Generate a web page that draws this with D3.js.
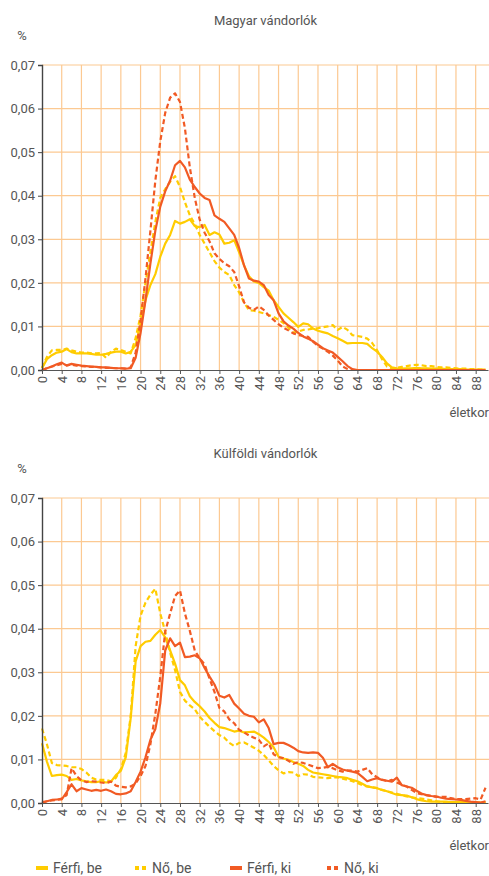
<!DOCTYPE html>
<html>
<head>
<meta charset="utf-8">
<script src="https://d3js.org/d3.v7.min.js"></script>
<style>
  body { margin: 0; background: #fff; }
  text { font-family: "Liberation Sans Narrow", "Roboto", sans-serif; fill: #555; }
</style>
</head>
<body>
<div id="chart"></div>
<script>
var ages = d3.range(0, 91)
var yTicks = [0, 0.01, 0.02, 0.03, 0.04, 0.05, 0.06, 0.07]
var xTicks = d3.range(0, 89, 4)

// Magyar vándorlók
var huFerfiBe = [0.0004,0.0025,0.0034,0.004,0.0042,0.0048,0.0041,0.0038,0.0038,0.0038,0.0037,0.0035,0.0035,0.0037,0.004,0.0042,0.0042,0.0038,0.0042,0.0057,
  0.0105,0.016,0.0195,0.022,0.026,0.029,0.031,0.0342,0.0336,0.034,0.0346,0.033,0.0328,0.0333,0.031,0.0316,0.0311,0.029,0.0292,0.0298,
  0.027,0.024,0.0215,0.0203,0.02,0.019,0.0182,0.016,0.0145,0.013,0.012,0.011,0.0099,0.0107,0.0105,0.0095,0.009,0.0087,0.0084,0.0078,
  0.0073,0.0067,0.0061,0.0062,0.0062,0.0062,0.006,0.005,0.0042,0.003,0.0015,0.0006,0.0004,0.0003,0.0004,0.0004,0.0005,0.0004,0.0004,0.0003,
  0.0003,0.0003,0.0002,0.0002,0.0002,0.0002,0.0001,0.0001,0.0001,0.0001,0.0001]
var huNoBe = [0.0005,0.003,0.0045,0.0046,0.0046,0.0049,0.0045,0.0042,0.004,0.004,0.0038,0.0038,0.0039,0.0028,0.0042,0.0049,0.0046,0.0042,0.0038,0.0073,
  0.0125,0.02,0.027,0.034,0.0395,0.0415,0.0432,0.0445,0.042,0.0385,0.0355,0.0335,0.031,0.029,0.027,0.025,0.0235,0.0225,0.0218,0.0195,
  0.0178,0.0155,0.0137,0.0136,0.0133,0.013,0.0126,0.0122,0.0115,0.0108,0.0097,0.0086,0.0088,0.0092,0.0093,0.0095,0.0096,0.0098,0.01,0.0103,
  0.0092,0.0099,0.0092,0.008,0.0078,0.0076,0.0072,0.0062,0.0045,0.0025,0.0008,0.0004,0.0005,0.0007,0.0009,0.0011,0.0012,0.0011,0.0009,0.0009,
  0.0007,0.0006,0.0006,0.0005,0.0004,0.0003,0.0003,0.0002,0.0002,0.0001,0.0001]
var huFerfiKi = [0,0.0004,0.0008,0.0013,0.0017,0.001,0.0014,0.0012,0.001,0.0009,0.0008,0.0007,0.0006,0.0006,0.0005,0.0004,0.0004,0.0003,0.0004,0.0028,
  0.0085,0.016,0.0245,0.032,0.0375,0.041,0.0435,0.047,0.048,0.0465,0.0437,0.042,0.0405,0.0395,0.039,0.0355,0.0347,0.034,0.0325,0.031,
  0.028,0.024,0.021,0.0205,0.0203,0.0195,0.0172,0.016,0.013,0.0112,0.0102,0.0095,0.0085,0.0077,0.0072,0.0066,0.0058,0.005,0.0045,0.004,
  0.003,0.002,0.0009,0.0002,0,0,0,0,0,0,0,0,0,0,0,0,0,0,0,0,
  0,0,0,0,0,0,0,0,0,0,0]
var huNoKi = [0,0.0004,0.0008,0.0011,0.0014,0.0011,0.0012,0.001,0.0009,0.0008,0.0007,0.0007,0.0006,0.0005,0.0005,0.0004,0.0004,0.0003,0.0006,0.004,
  0.0115,0.021,0.032,0.0435,0.0525,0.059,0.0625,0.0635,0.0615,0.0555,0.0465,0.0395,0.0345,0.0315,0.0295,0.0268,0.0255,0.0245,0.0238,0.0225,
  0.0192,0.0155,0.0143,0.0138,0.0146,0.0138,0.0125,0.0115,0.0105,0.0097,0.0091,0.0084,0.008,0.0078,0.0076,0.0065,0.0055,0.0049,0.0042,0.0033,
  0.0022,0.0008,0.0002,0,0,0,0,0,0,0,0,0,0,0,0,0,0,0,0,0,
  0,0,0,0,0,0,0,0,0,0,0]

// Külföldi vándorlók
var kfFerfiBe = [0.0137,0.0095,0.0062,0.0064,0.0065,0.0062,0.0053,0.0055,0.0052,0.005,0.0048,0.0048,0.005,0.0047,0.0049,0.0064,0.0074,0.0105,0.0195,0.0325,
  0.036,0.037,0.0372,0.0386,0.0397,0.038,0.035,0.032,0.0282,0.027,0.0245,0.0232,0.0222,0.021,0.0195,0.0184,0.0174,0.0172,0.0168,0.0164,
  0.0166,0.0162,0.0163,0.0164,0.0158,0.015,0.014,0.0128,0.0106,0.0102,0.0099,0.0094,0.009,0.0085,0.0076,0.007,0.0068,0.0066,0.0064,0.0062,
  0.006,0.0059,0.0057,0.0053,0.005,0.0044,0.0038,0.0036,0.0034,0.003,0.0027,0.0023,0.0019,0.0018,0.0017,0.0013,0.0009,0.0006,0.0004,0.0003,
  0.0003,0.0003,0.0003,0.0002,0.0002,0.0002,0.0002,0.0002,0.0001,0.0001,0.0001]
var kfNoBe = [0.0171,0.0135,0.0092,0.0087,0.0086,0.0085,0.0082,0.0082,0.0078,0.007,0.0058,0.0054,0.0053,0.0053,0.005,0.0058,0.0078,0.0115,0.02,0.036,
  0.043,0.046,0.0478,0.0492,0.0435,0.0393,0.0345,0.0305,0.0255,0.0235,0.0224,0.0215,0.0198,0.0186,0.0175,0.0165,0.0156,0.015,0.0138,0.0131,
  0.0138,0.0139,0.0133,0.0127,0.012,0.011,0.0098,0.0085,0.0075,0.0068,0.0071,0.007,0.0062,0.0066,0.0065,0.006,0.0059,0.0058,0.0057,0.0059,
  0.0059,0.0056,0.0053,0.005,0.0046,0.0041,0.0038,0.0036,0.0034,0.003,0.0027,0.0024,0.0021,0.0018,0.0015,0.0013,0.0011,0.001,0.0008,0.0006,
  0.0004,0.0002,0.0001,0.0001,0.0001,0.0001,0.0001,0.0001,0.0001,0.0001,0.0001]
var kfFerfiKi = [0,0.0004,0.0007,0.0008,0.0008,0.0025,0.0043,0.0027,0.0034,0.0031,0.0028,0.003,0.0028,0.0031,0.0027,0.0021,0.002,0.0022,0.0027,0.0048,
  0.0072,0.0105,0.0145,0.017,0.0229,0.035,0.0378,0.036,0.0368,0.0335,0.0336,0.0339,0.0332,0.031,0.029,0.0272,0.0246,0.0242,0.0248,0.0228,
  0.0217,0.0205,0.02,0.0198,0.0185,0.0192,0.0172,0.0135,0.0138,0.0138,0.0133,0.0127,0.0119,0.0116,0.0115,0.0116,0.0115,0.0104,0.0082,0.009,
  0.0082,0.0077,0.0074,0.0072,0.0069,0.006,0.005,0.0054,0.0057,0.0053,0.0051,0.0049,0.0058,0.0041,0.0038,0.0035,0.0028,0.0022,0.0018,0.0016,
  0.0015,0.0012,0.001,0.0009,0.0008,0.0007,0.0005,0.0003,0.0002,0.0001,0.0004]
var kfNoKi = [0.0002,0.0004,0.0006,0.0007,0.001,0.0018,0.008,0.0062,0.0052,0.0048,0.005,0.0049,0.0047,0.0046,0.0049,0.004,0.0037,0.0036,0.0038,0.0045,
  0.0062,0.0085,0.0135,0.0205,0.029,0.0393,0.0435,0.0475,0.0488,0.0435,0.0395,0.035,0.0332,0.0318,0.0285,0.0255,0.0218,0.021,0.0192,0.0183,
  0.0168,0.0162,0.0155,0.015,0.0145,0.013,0.0137,0.0112,0.0105,0.0103,0.0097,0.009,0.0094,0.0092,0.0088,0.0084,0.008,0.0081,0.0083,0.008,
  0.0075,0.0072,0.0075,0.0074,0.0072,0.0076,0.008,0.0066,0.0059,0.0054,0.005,0.0053,0.0047,0.0042,0.0038,0.003,0.0023,0.002,0.0018,0.0016,
  0.0014,0.0014,0.0014,0.0011,0.0009,0.0009,0.0009,0.001,0.0011,0.0008,0.0035]

var seriesNames = ["Férfi, be", "Nő, be", "Férfi, ki", "Nő, ki"]
var colors = ["#ffcc00", "#ffcc00", "#f15a24", "#f15a24"]
var dashed = [false, true, false, true]

var W = 489, H = 876
var left = 42, right = 489
var svg = d3.select("#chart").append("svg")
  .attr("width", W).attr("height", H)

var x = d3.scaleLinear().domain([0, 90.5]).range([left, 488])
var fmt = function(d){ return d3.format(".2f")(d).replace(".", ",") }

function drawPanel(title, data, top, bottom){
  var y = d3.scaleLinear().domain([0, 0.07]).range([bottom, top])
  var g = svg.append("g")

  g.append("text")
    .attr("x", (left + right) / 2).attr("y", top - 40)
    .attr("text-anchor", "middle")
    .style("font-size", "13px")
    .text(title)

  g.append("text")
    .attr("x", 22).attr("y", top - 25)
    .attr("text-anchor", "middle")
    .style("font-size", "13px")
    .text("%")

  // grid
  g.selectAll(".hgrid").data(yTicks.slice(1)).enter()
    .append("line")
    .attr("x1", left).attr("x2", right)
    .attr("y1", function(d){ return y(d) }).attr("y2", function(d){ return y(d) })
    .style("stroke", "#fcc992").style("stroke-width", 1.2)

  g.selectAll(".vgrid").data(xTicks.slice(1)).enter()
    .append("line")
    .attr("x1", function(d){ return x(d) }).attr("x2", function(d){ return x(d) })
    .attr("y1", top).attr("y2", bottom)
    .style("stroke", "#fcc992").style("stroke-width", 1.2)

  // lines
  var line = d3.line()
    .x(function(d, i){ return x(ages[i]) })
    .y(function(d){ return y(d) })

  // draw order: yellow first, red on top
  data.forEach(function(s, i){
    g.append("path")
      .datum(s)
      .attr("d", line)
      .style("fill", "none")
      .style("stroke", colors[i])
      .style("stroke-width", 2.2)
      .style("stroke-linejoin", "round")
      .style("stroke-dasharray", dashed[i] ? "5,3" : null)
  })

  // axes
  var yAxis = g.append("g")
    .attr("transform", "translate(" + left + ",0)")
    .call(d3.axisLeft(y).tickValues(yTicks).tickFormat(fmt).tickSize(4).tickPadding(3))
  yAxis.select(".domain").style("stroke", "#444").style("stroke-width", 1.4)
  yAxis.selectAll(".tick line").style("stroke", "#444")
  yAxis.selectAll("text").style("font-size", "13px").style("fill", "#555")

  var xAxis = g.append("g")
    .attr("transform", "translate(0," + bottom + ")")
    .call(d3.axisBottom(x).tickValues(xTicks).tickSize(4).tickSizeOuter(0))
  xAxis.select(".domain").style("stroke", "#555").style("stroke-width", 1.2)
  xAxis.selectAll(".tick line").style("stroke", "#555")
  xAxis.selectAll("text")
    .attr("transform", "rotate(-90)")
    .attr("x", -6).attr("y", 0).attr("dy", "0.35em")
    .style("text-anchor", "end")
    .style("font-size", "13px").style("fill", "#555")

  g.append("text")
    .attr("x", right).attr("y", bottom + 47)
    .attr("text-anchor", "end")
    .style("font-size", "13px")
    .text("életkor")
}

drawPanel("Magyar vándorlók", [huFerfiBe, huNoBe, huFerfiKi, huNoKi], 65, 370)
drawPanel("Külföldi vándorlók", [kfFerfiBe, kfNoBe, kfFerfiKi, kfNoKi], 498, 803)

// legend
var legendX = [36, 135, 230, 327]
var lg = svg.append("g")
seriesNames.forEach(function(name, i){
  var gx = legendX[i]
  if (dashed[i]) {
    lg.append("rect").attr("x", gx).attr("y", 866).attr("width", 4).attr("height", 4).style("fill", colors[i])
    lg.append("rect").attr("x", gx + 7).attr("y", 866).attr("width", 4).attr("height", 4).style("fill", colors[i])
  } else {
    lg.append("rect").attr("x", gx).attr("y", 866).attr("width", 12).attr("height", 4).style("fill", colors[i])
  }
  lg.append("text")
    .attr("x", gx + 17).attr("y", 873)
    .style("font-size", "14px")
    .text(name)
})
</script>
</body>
</html>
